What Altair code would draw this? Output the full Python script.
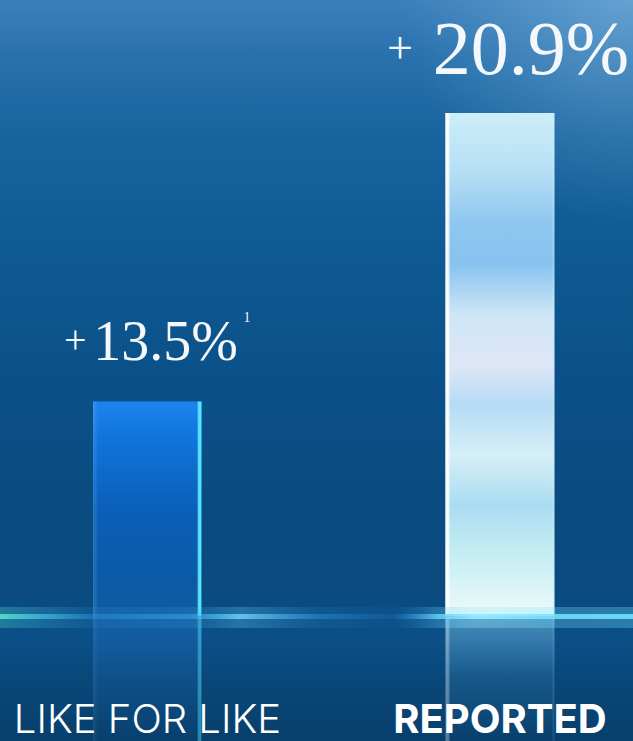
import altair as alt
import pandas as pd

# ---- data ----
categories = ["LIKE FOR LIKE", "REPORTED"]
growth = [13.5, 20.9]
growth_labels = ["13.5%", "20.9%"]
signs = ["+", "+"]
footnotes = ["1", ""]
BASELINE = 8.0          # value at the glowing base line
Y_DOMAIN = [4.79, 23.8]

df = pd.DataFrame({
    "category": categories,
    "growth": growth,
    "label": growth_labels,
    "sign": signs,
    "note": footnotes,
})
one = pd.DataFrame({"k": [0]})

W, H = 633, 741


def lg(stops, x1=0, y1=0, x2=0, y2=1):
    return alt.LinearGradient(
        gradient="linear",
        stops=[alt.GradientStop(offset=o, color=c) for o, c in stops],
        x1=x1, y1=y1, x2=x2, y2=y2,
    )


bg_grad = lg([
    (0.0, "#3c80bb"), (0.07, "#2a72ae"), (0.18, "#17649f"), (0.32, "#0f5b94"),
    (0.5, "#0b5189"), (0.7, "#0a4b80"), (0.8, "#0a4a7f"), (0.86, "#0b5088"),
    (0.92, "#094778"), (1.0, "#083f6c"),
])
top_glow = alt.RadialGradient(
    gradient="radial",
    stops=[alt.GradientStop(offset=0, color="rgba(150,200,235,0.45)"),
           alt.GradientStop(offset=1, color="rgba(150,200,235,0)")],
    x1=0.92, y1=0, r1=0, x2=0.92, y2=0, r2=0.3,
)
left_fill = lg([
    (0.0, "#1d84ee"), (0.15, "#1176dd"), (0.5, "#0b5fb8"), (0.85, "#0c5aa5"), (1.0, "#0f5e9e"),
])
left_edge = lg([
    (0.0, "rgba(120,200,255,0.25)"), (0.05, "rgba(120,200,255,0)"),
    (0.955, "rgba(90,235,255,0)"), (0.97, "rgba(90,235,255,0.95)"),
    (0.99, "rgba(90,235,255,0.95)"), (1.0, "rgba(90,235,255,0)"),
], x1=0, y1=0, x2=1, y2=0)
right_fill = lg([
    (0.0, "#cdeef8"), (0.12, "#b5def5"), (0.22, "#8ec6f0"), (0.3, "#88c2ee"),
    (0.4, "#cde6f6"), (0.5, "#dfe6f6"), (0.58, "#b5dbf4"), (0.68, "#d6eff7"),
    (0.78, "#aadcf1"), (0.88, "#c5eef3"), (1.0, "#eefafa"),
])
right_edge = lg([
    (0.0, "rgba(255,255,255,0.95)"), (0.025, "rgba(255,255,255,0.9)"),
    (0.045, "rgba(255,255,255,0)"), (0.97, "rgba(200,240,255,0)"),
    (1.0, "rgba(200,240,255,0.4)"),
], x1=0, y1=0, x2=1, y2=0)
left_refl = lg([(0.0, "rgba(40,130,230,0.3)"), (1.0, "rgba(40,130,230,0)")])
right_refl = lg([(0.0, "rgba(150,220,250,0.45)"), (0.5, "rgba(120,200,245,0.12)"),
                 (1.0, "rgba(120,200,245,0)")])
glow = lg([
    (0.0, "rgba(90,230,210,0.85)"), (0.08, "rgba(70,200,235,0.6)"),
    (0.15, "rgba(50,160,230,0.35)"), (0.3, "rgba(60,180,245,0.45)"),
    (0.38, "rgba(110,215,255,0.8)"), (0.5, "rgba(60,170,240,0.35)"),
    (0.62, "rgba(40,140,220,0.15)"), (0.69, "rgba(100,210,255,0.8)"),
    (0.75, "rgba(150,235,255,0.95)"), (0.88, "rgba(120,225,255,0.85)"),
    (1.0, "rgba(110,225,255,0.9)"),
], x1=0, y1=0, x2=1, y2=0)

xscale = alt.Scale(domain=categories, paddingInner=0.691, paddingOuter=0.2434, align=0.542)
yscale = alt.Scale(domain=Y_DOMAIN, zero=False, nice=False)

xaxis = alt.Axis(
    title=None, orient="bottom", offset=-61, domain=False, ticks=False, tickSize=0,
    grid=False, labelAngle=0, labelPadding=52, labelBaseline="alphabetic",
    labelFont="Inter", labelFontSize=40, labelColor="#ffffff",
    labelFontWeight={"condition": {"test": "datum.value === 'REPORTED'", "value": 700}, "value": 300},
    labelLimit=0, labelOverlap=False, labelBound=False, labelFlush=False, zindex=2,
)

base = alt.Chart(df).encode(x=alt.X("category:N", scale=xscale, axis=xaxis, sort=categories))
left = base.transform_filter(alt.datum.category == categories[0])
right = base.transform_filter(alt.datum.category == categories[1])

full_rect = dict(x=alt.value(0), x2=alt.value("width"), y=alt.value(0), y2=alt.value("height"))
bg = alt.Chart(one).mark_rect(fill=bg_grad).encode(**full_rect)
bg2 = alt.Chart(one).mark_rect(fill=top_glow).encode(**full_rect)

bar_enc = dict(y=alt.Y("growth:Q", scale=yscale, axis=None), y2=alt.Y2Datum(BASELINE))
refl_enc = dict(y=alt.YDatum(BASELINE, scale=yscale, axis=None), y2=alt.Y2Datum(Y_DOMAIN[0]))

l_refl = left.mark_bar(fill=left_refl).encode(**refl_enc)
r_refl = right.mark_bar(fill=right_refl).encode(**refl_enc)
l_refl_edge = left.mark_bar(fill=left_edge, opacity=0.45).encode(**refl_enc)
r_refl_edge = right.mark_bar(fill=right_edge, opacity=0.35).encode(**refl_enc)

l_bar = left.mark_bar(fill=left_fill).encode(**bar_enc)
l_bar_edge = left.mark_bar(fill=left_edge).encode(**bar_enc)
r_bar = right.mark_bar(fill=right_fill).encode(**bar_enc)
r_bar_edge = right.mark_bar(fill=right_edge).encode(**bar_enc)

glow_enc = dict(x=alt.value(0), x2=alt.value("width"),
                y=alt.YDatum(BASELINE, scale=yscale, axis=None), y2=alt.Y2Datum(BASELINE))
glow_wide = alt.Chart(one).mark_rect(fill=glow, opacity=0.35, yOffset=-9, y2Offset=12).encode(**glow_enc)
glow_thin = alt.Chart(one).mark_rect(fill=glow, yOffset=-2, y2Offset=3).encode(**glow_enc)

TXT = "#f4f8fb"
ytxt = alt.Y("growth:Q", scale=yscale, axis=None)
r_num = right.mark_text(font="Liberation Serif", fontSize=76, color=TXT, align="center",
                        baseline="alphabetic", dx=31, dy=-39).encode(y=ytxt, text="label:N")
r_plus = right.mark_text(font="Liberation Serif", fontSize=46, color=TXT, align="right",
                         baseline="alphabetic", dx=-87, dy=-50).encode(y=ytxt, text="sign:N")
l_num = left.mark_text(font="Liberation Serif", fontSize=56, color=TXT, align="center",
                       baseline="alphabetic", dx=18, dy=-41).encode(y=ytxt, text="label:N")
l_plus = left.mark_text(font="Liberation Serif", fontSize=40, color=TXT, align="right",
                        baseline="alphabetic", dx=-61, dy=-48).encode(y=ytxt, text="sign:N")
l_note = left.mark_text(font="Liberation Serif", fontSize=14, color=TXT, align="left",
                        baseline="alphabetic", dx=96, dy=-79).encode(y=ytxt, text="note:N")

chart = alt.layer(
    bg, bg2, l_refl, r_refl, l_refl_edge, r_refl_edge,
    l_bar, r_bar, l_bar_edge, r_bar_edge, glow_wide, glow_thin,
    r_num, r_plus, l_num, l_plus, l_note,
).properties(
    width=W, height=H, padding=0,
    autosize=alt.AutoSizeParams(type="none"),
    background="#0a4778",
).configure_view(strokeWidth=0)

chart.save("out.html", embed_options={"renderer": "svg", "actions": False})
